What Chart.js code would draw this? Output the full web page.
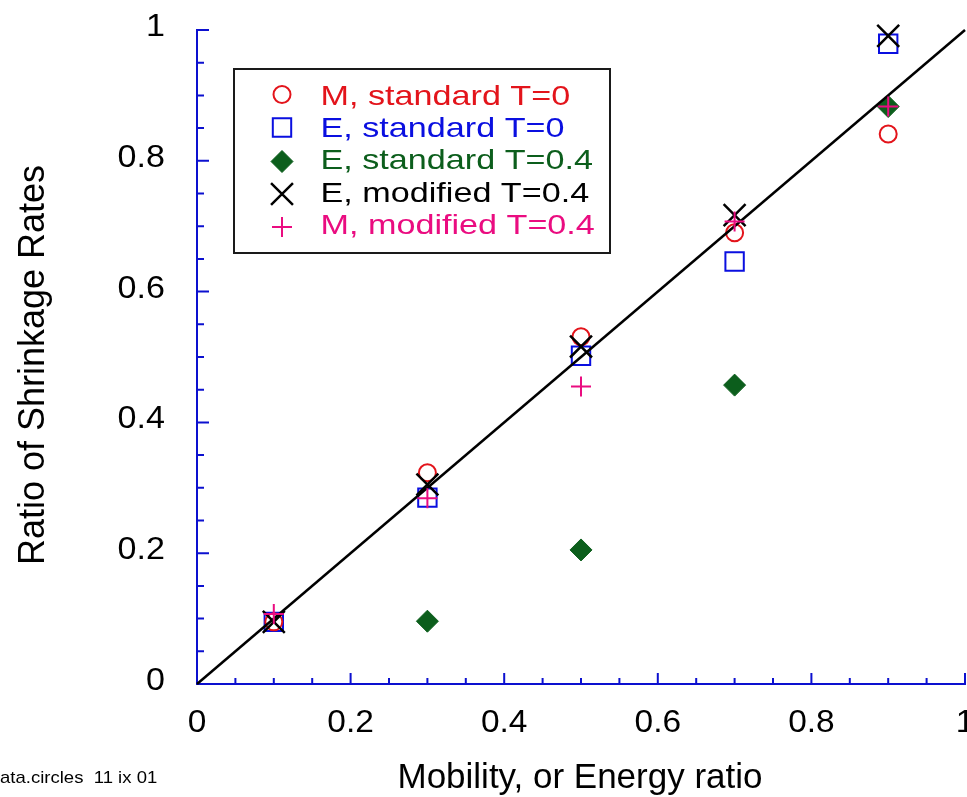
<!DOCTYPE html>
<html>
<head>
<meta charset="utf-8">
<title>Ratio of Shrinkage Rates</title>
<script src="https://cdn.jsdelivr.net/npm/chart.js@4"></script>
<style>
  html, body { margin: 0; padding: 0; background: #ffffff; overflow: hidden; }
  #wrap { width: 967px; height: 797px; overflow: hidden; }
  #chart { display: block; width: 967px; height: 797px; }
</style>
</head>
<body>
<div id="wrap"><canvas id="chart" width="967" height="797"></canvas></div>
<script>
// Mobility / energy ratios at which each run was made
const xValues = [0.1, 0.3, 0.5, 0.7, 0.9];

// Ratio of shrinkage rates for each run type
const mStandardT0  = [0.095, 0.323, 0.531, 0.690, 0.841];
const eStandardT0  = [0.095, 0.285, 0.502, 0.646, 0.979];
const eStandardT04 = [null,  0.096, 0.205, 0.457, 0.883];
const eModifiedT04 = [0.095, 0.305, 0.516, 0.717, 0.991];
const mModifiedT04 = [0.107, 0.284, 0.455, 0.707, 0.883];

// Reference line y = x
const diagonalX = [0, 1];
const diagonalY = [0, 1];

// Labelled (major) ticks
const xTickValues = [0, 0.2, 0.4, 0.6, 0.8, 1];
const xTickLabels = ['0', '0.2', '0.4', '0.6', '0.8', '1'];
const yTickValues = [0, 0.2, 0.4, 0.6, 0.8, 1];
const yTickLabels = ['0', '0.2', '0.4', '0.6', '0.8', '1'];

const seriesNames = [
  'M, standard T=0',
  'E, standard T=0',
  'E, standard T=0.4',
  'E, modified T=0.4',
  'M, modified T=0.4'
];

const RED = '#e3141b';
const BLUE = '#0a0fe0';
const GREEN = '#0c5e1c';
const BLACK = '#000000';
const PINK = '#ea0c80';
const AXIS = '#0c10cf';
const FONT = '"Liberation Sans", Arial, Helvetica, sans-serif';

function pairs(xs, ys) {
  const out = [];
  xs.forEach((x, i) => { if (ys[i] !== null) out.push({ x: x, y: ys[i] }); });
  return out;
}

function markerSet(label, values, style, radius, color, filled, width, order) {
  return {
    type: 'scatter',
    label: label,
    data: pairs(xValues, values),
    pointStyle: style,
    pointRadius: radius,
    pointHoverRadius: radius,
    pointBorderWidth: width,
    pointBorderColor: color,
    pointBackgroundColor: filled ? color : 'rgba(0,0,0,0)',
    borderColor: color,
    backgroundColor: filled ? color : 'rgba(0,0,0,0)',
    showLine: false,
    clip: false,
    order: order
  };
}

const datasets = [
  markerSet(seriesNames[0], mStandardT0, 'circle', 8.5, RED, false, 2, 3),
  markerSet(seriesNames[1], eStandardT0, 'rect', 13, BLUE, false, 2, 4),
  markerSet(seriesNames[2], eStandardT04, 'rectRot', 11, GREEN, true, 1, 5),
  markerSet(seriesNames[3], eModifiedT04, 'crossRot', 15.5, BLACK, false, 2.5, 1),
  markerSet(seriesNames[4], mModifiedT04, 'cross', 10, PINK, false, 2, 0),
  {
    type: 'line',
    label: 'y = x',
    data: pairs(diagonalX, diagonalY),
    borderColor: BLACK,
    borderWidth: 2.5,
    pointRadius: 0,
    fill: false,
    clip: false,
    order: 2
  }
];

// Horizontally scaled text helper
function text(ctx, str, x, y, size, align, sx, color) {
  ctx.save();
  ctx.translate(x, y);
  ctx.scale(sx, 1);
  ctx.font = size + 'px ' + FONT;
  ctx.textAlign = align;
  ctx.textBaseline = 'alphabetic';
  ctx.fillStyle = color;
  ctx.fillText(str, 0, 0);
  ctx.restore();
}

function isMajor(v, list) {
  return list.some(m => Math.abs(m - v) < 1e-6);
}

function marker(ctx, ds, x, y) {
  ctx.save();
  ctx.strokeStyle = ds.pointBorderColor;
  ctx.fillStyle = ds.pointBackgroundColor;
  ctx.lineWidth = ds.pointBorderWidth;
  if (Chart.helpers && Chart.helpers.drawPoint) {
    Chart.helpers.drawPoint(ctx, {
      pointStyle: ds.pointStyle,
      radius: ds.pointRadius,
      rotation: 0,
      borderWidth: ds.pointBorderWidth
    }, x, y);
  }
  ctx.restore();
}

const framePlugin = {
  id: 'frame',
  beforeDatasetsDraw(chart) {
    const ctx = chart.ctx;
    const xs = chart.scales.x, ys = chart.scales.y;
    const left = xs.getPixelForValue(0), right = xs.getPixelForValue(1);
    const bottom = ys.getPixelForValue(0), top = ys.getPixelForValue(1);
    ctx.save();
    ctx.strokeStyle = AXIS;
    ctx.lineWidth = 2;
    ctx.lineCap = 'butt';
    ctx.beginPath();
    ctx.moveTo(left, top - 1);
    ctx.lineTo(left, bottom);
    ctx.lineTo(right + 1, bottom);
    ctx.stroke();
    ctx.beginPath();
    ys.ticks.forEach(t => {
      const py = ys.getPixelForValue(t.value);
      const len = isMajor(t.value, yTickValues) ? 12 : 7;
      ctx.moveTo(left, py);
      ctx.lineTo(left + len, py);
    });
    xs.ticks.forEach(t => {
      const px = xs.getPixelForValue(t.value);
      const len = isMajor(t.value, xTickValues) ? 11 : 6;
      ctx.moveTo(px, bottom);
      ctx.lineTo(px, bottom - len);
    });
    ctx.stroke();
    ctx.restore();
  },
  afterDraw(chart) {
    const ctx = chart.ctx;
    const xs = chart.scales.x, ys = chart.scales.y;

    // tick labels
    yTickValues.forEach((v, i) => {
      text(ctx, yTickLabels[i], 165, ys.getPixelForValue(v) + 6, 31, 'right', 1.1, BLACK);
    });
    xTickValues.forEach((v, i) => {
      text(ctx, xTickLabels[i], xs.getPixelForValue(v), 732, 31, 'center', 1.08, BLACK);
    });

    // axis titles
    text(ctx, 'Mobility, or Energy ratio', 580, 788, 35, 'center', 1.0, BLACK);
    ctx.save();
    ctx.translate(43.5, 365);
    ctx.rotate(-Math.PI / 2);
    ctx.font = '36px ' + FONT;
    ctx.textAlign = 'center';
    ctx.textBaseline = 'alphabetic';
    ctx.fillStyle = BLACK;
    ctx.fillText('Ratio of Shrinkage Rates', 0, 0);
    ctx.restore();

    // legend
    ctx.save();
    ctx.fillStyle = '#ffffff';
    ctx.fillRect(234, 69, 376, 184);
    ctx.strokeStyle = '#1a1a1a';
    ctx.lineWidth = 2;
    ctx.strokeRect(234, 69, 376, 184);
    ctx.restore();
    const markerY = [94.5, 127.5, 161.5, 194, 227];
    const baseY = [104.5, 136.5, 168.5, 201.5, 233.5];
    const colors = [RED, BLUE, GREEN, BLACK, PINK];
    for (let i = 0; i < 5; i++) {
      marker(ctx, datasets[i], 282, markerY[i]);
      text(ctx, seriesNames[i], 320.5, baseY[i], 28, 'left', 1.22, colors[i]);
    }

    // file note
    text(ctx, 'data.circles  11 ix 01', -10.3, 783, 17, 'left', 1.09, BLACK);
  }
};

new Chart(document.getElementById('chart'), {
  data: { datasets: datasets },
  options: {
    responsive: false,
    maintainAspectRatio: false,
    devicePixelRatio: 1,
    animation: false,
    events: [],
    layout: { autoPadding: false, padding: { top: 30, right: 2, left: 0, bottom: 0 } },
    plugins: {
      legend: { display: false },
      tooltip: { enabled: false },
      title: { display: false }
    },
    scales: {
      x: {
        type: 'linear',
        min: 0,
        max: 1,
        grid: { display: false, drawTicks: false },
        border: { display: false },
        ticks: { display: false, stepSize: 0.05 },
        afterFit: s => { s.height = 113; }
      },
      y: {
        type: 'linear',
        min: 0,
        max: 1,
        grid: { display: false, drawTicks: false },
        border: { display: false },
        ticks: { display: false, stepSize: 0.05 },
        afterFit: s => { s.width = 197; }
      }
    }
  },
  plugins: [framePlugin]
});
</script>
</body>
</html>
